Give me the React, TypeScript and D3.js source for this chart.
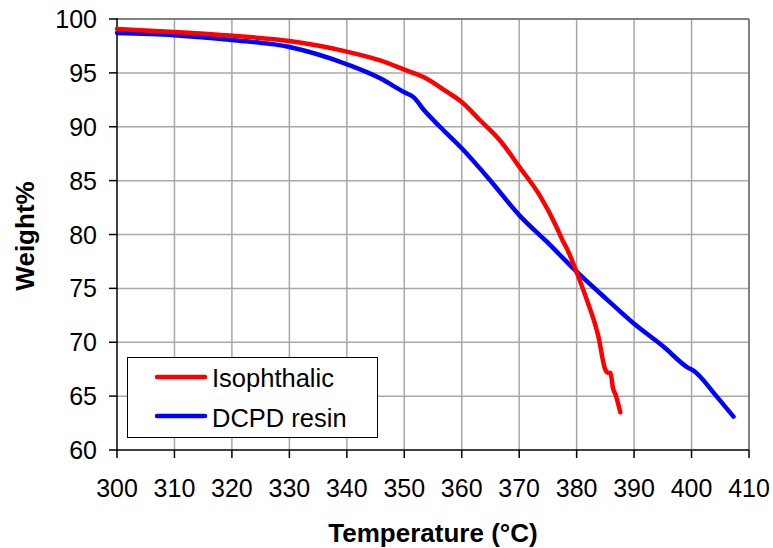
import React from "react";
import * as d3 from "d3";

const isoT = [300, 310, 320, 330, 340, 345.8, 350, 353.6, 357.4, 360, 363.2, 366.7, 370, 373.6, 376.5, 377.6, 378.3, 380, 381.8, 383.8, 384.9, 385.3, 385.9, 386.3, 386.8, 387.6];
const isoW = [99.07, 98.8, 98.45, 97.95, 96.97, 96.15, 95.3, 94.55, 93.25, 92.3, 90.6, 88.7, 86.3, 83.6, 80.7, 79.4, 78.7, 76.5, 73.9, 70.5, 67.6, 67.2, 67.15, 65.8, 65.1, 63.5];
const dcpdT = [300, 310, 320, 330, 340, 345.8, 350, 351.6, 353.5, 356.2, 360, 364.9, 370, 374.8, 380, 385.2, 389.9, 395.1, 399.2, 400.5, 401.5, 404.4, 407.3];
const dcpdW = [98.7, 98.5, 98.05, 97.4, 95.8, 94.5, 93.2, 92.75, 91.5, 90.0, 88.0, 85.06, 81.8, 79.33, 76.55, 74.0, 71.76, 69.6, 67.7, 67.3, 66.8, 64.95, 63.1];
const xTicks = [300, 310, 320, 330, 340, 350, 360, 370, 380, 390, 400, 410];
const yTicks = [60, 65, 70, 75, 80, 85, 90, 95, 100];
const seriesNames = ["Isophthalic", "DCPD resin"];
const seriesColors = ["#ff0000", "#0000ff"];

export default function App() {
  const W = 773, H = 548;
  const L = 117, R = 749, T = 19, B = 450;
  const x = d3.scaleLinear().domain([300, 410]).range([L, R]);
  const y = d3.scaleLinear().domain([60, 100]).range([B, T]);
  const line = d3.line<[number, number]>().x(d => x(d[0])).y(d => y(d[1])).curve(d3.curveMonotoneX);
  const iso = isoT.map((t, i) => [t, isoW[i]] as [number, number]);
  const dc = dcpdT.map((t, i) => [t, dcpdW[i]] as [number, number]);
  const font = "Liberation Sans, Arial, sans-serif";
  return (
    <svg width={W} height={H} style={{ position: "absolute", left: 0, top: 0, background: "#fff" }}>
      <rect x={0} y={0} width={W} height={H} fill="#fff" />
      {xTicks.slice(1, -1).map(t => (
        <line key={"gx" + t} x1={x(t)} x2={x(t)} y1={T} y2={B} stroke="#a8a8a8" strokeWidth={1.5} />
      ))}
      {yTicks.slice(1, -1).map(t => (
        <line key={"gy" + t} x1={L} x2={R} y1={y(t)} y2={y(t)} stroke="#a8a8a8" strokeWidth={1.5} />
      ))}
      <line x1={L} x2={R} y1={T} y2={T} stroke="#808080" strokeWidth={2} />
      <line x1={R} x2={R} y1={T} y2={B} stroke="#808080" strokeWidth={2} />
      <line x1={L} x2={L} y1={T - 1} y2={B} stroke="#000" strokeWidth={1.5} />
      <line x1={L} x2={R} y1={B} y2={B} stroke="#000" strokeWidth={1.5} />
      {xTicks.map(t => (
        <g key={"tx" + t}>
          <line x1={x(t)} x2={x(t)} y1={B} y2={B + 8} stroke="#000" strokeWidth={1.5} />
          <text x={x(t)} y={497} fontSize={25} fontFamily={font} textAnchor="middle">{t}</text>
        </g>
      ))}
      {yTicks.map(t => (
        <g key={"ty" + t}>
          <line x1={L - 8} x2={L} y1={y(t)} y2={y(t)} stroke="#000" strokeWidth={1.5} />
          <text x={97} y={y(t) + 9} fontSize={25} fontFamily={font} textAnchor="end">{t}</text>
        </g>
      ))}
      <path d={line(dc) || ""} fill="none" stroke={seriesColors[1]} strokeWidth={4.5} strokeLinejoin="round" strokeLinecap="round" />
      <path d={line(iso) || ""} fill="none" stroke={seriesColors[0]} strokeWidth={4.5} strokeLinejoin="round" strokeLinecap="round" />
      <rect x={127.5} y={357.5} width={250} height={80} fill="#fff" stroke="#000" strokeWidth={1} />
      {seriesNames.map((n, i) => (
        <g key={n}>
          <line x1={157} x2={205} y1={377 + i * 39} y2={377 + i * 39} stroke={seriesColors[i]} strokeWidth={4.5} strokeLinecap="round" />
          <text x={212} y={387 + i * 39.5} fontSize={25.5} fontFamily={font}>{n}</text>
        </g>
      ))}
      <text x={433} y={542} fontSize={26} fontWeight="bold" fontFamily={font} textAnchor="middle">Temperature (°C)</text>
      <text transform="translate(34,236) rotate(-90)" fontSize={26} fontWeight="bold" fontFamily={font} textAnchor="middle">Weight%</text>
    </svg>
  );
}
